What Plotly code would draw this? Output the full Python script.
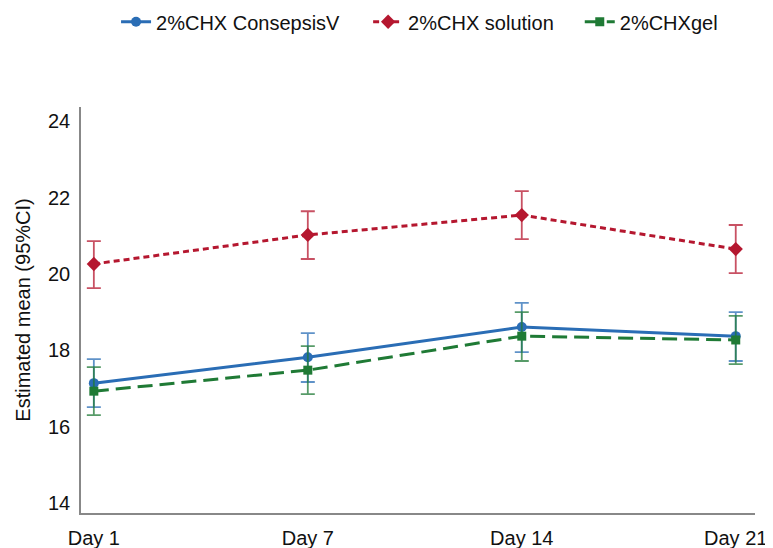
import plotly.graph_objects as go

days = ["Day 1", "Day 7", "Day 14", "Day 21"]

consepsis_mean = [17.14, 17.82, 18.61, 18.37]
consepsis_upper = [17.77, 18.45, 19.24, 19.00]
consepsis_lower = [16.51, 17.17, 17.95, 17.72]

solution_mean = [20.26, 21.02, 21.54, 20.65]
solution_upper = [20.86, 21.64, 22.17, 21.28]
solution_lower = [19.63, 20.39, 20.91, 20.02]

gel_mean = [16.93, 17.48, 18.37, 18.27]
gel_upper = [17.56, 18.11, 19.00, 18.90]
gel_lower = [16.30, 16.85, 17.72, 17.64]

series = [
    ("2%CHX ConsepsisV", consepsis_mean, consepsis_upper, consepsis_lower,
     "#2a6db5", "rgba(42,109,181,0.75)", "solid", "circle", 10, "legend"),
    ("2%CHX solution", solution_mean, solution_upper, solution_lower,
     "#b5172f", "rgba(181,23,47,0.75)", "6px,4px", "diamond", 11, "legend2"),
    ("2%CHXgel", gel_mean, gel_upper, gel_lower,
     "#1f7a35", "rgba(31,122,53,0.75)", "15px,7px", "square", 9, "legend3"),
]

fig = go.Figure()
for name, m, u, l, col, ecol, dash, sym, ms, lg in series:
    fig.add_trace(go.Scatter(
        x=days, y=m, name=name, mode="lines+markers", legend=lg, showlegend=True,
        line=dict(color=col, width=3, dash=dash),
        marker=dict(color=col, symbol=sym, size=ms),
        error_y=dict(type="data", symmetric=False,
                     array=[a - b for a, b in zip(u, m)],
                     arrayminus=[b - c for b, c in zip(m, l)],
                     color=ecol, thickness=1.8, width=7),
    ))

leg_common = dict(orientation="h", y=1.21, yanchor="middle", xanchor="left",
                  font=dict(size=20), itemwidth=30, bgcolor="rgba(0,0,0,0)")

fig.update_layout(
    width=765, height=540, showlegend=True,
    margin=dict(l=73, r=18, t=99, b=35, autoexpand=False),
    plot_bgcolor="white", paper_bgcolor="white",
    font=dict(family="Liberation Sans, Arial, sans-serif", size=20, color="#111111"),
    legend=dict(x=0.052, **leg_common),
    legend2=dict(x=0.426, **leg_common),
    legend3=dict(x=0.740, **leg_common),
    xaxis=dict(range=[-0.06, 3.09], showgrid=False, showline=True, linecolor="#888888",
               linewidth=1.5, ticks="outside", ticklen=6, tickcolor="rgba(0,0,0,0)",
               zeroline=False, tickfont=dict(size=20), automargin=False),
    yaxis=dict(range=[13.74, 24.37], showgrid=False, showline=True, linecolor="#888888",
               linewidth=1.5, ticks="outside", ticklen=5, tickcolor="rgba(0,0,0,0)",
               zeroline=False, tickvals=[14, 16, 18, 20, 22, 24],
               tickfont=dict(size=20), automargin=False,
               title=dict(text="Estimated mean (95%CI)", font=dict(size=20), standoff=12)),
)

fig.write_html("out.html")
